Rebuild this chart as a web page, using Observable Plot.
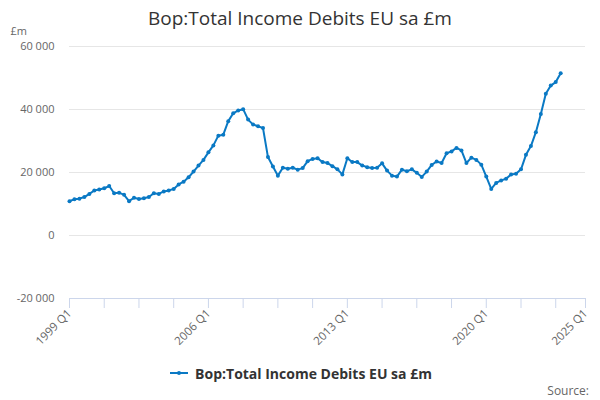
<!DOCTYPE html>
<html>
<head>
<meta charset="utf-8">
<script src="https://cdn.jsdelivr.net/npm/d3@7"></script>
<script src="https://cdn.jsdelivr.net/npm/@observablehq/plot@0.6"></script>
<style>
  body { margin: 0; background: #fff; font-family: "Open Sans", sans-serif; }
  #wrap { width: 600px; }
  #title { height: 22px; box-sizing: border-box; padding-top: 6px; text-align: center; font-size: 19px; line-height: 24px; color: #333; position: relative; z-index: 1; }
  #legend { height: 20px; display: flex; justify-content: center; align-items: center; font-size: 14px; font-weight: bold; color: #333; }
  #source { height: 16px; text-align: right; padding-right: 11px; font-size: 12px; line-height: 16px; color: #666; }
  #chart svg { background: transparent; }
</style>
</head>
<body>
<div id="wrap">
  <div id="title">Bop:Total Income Debits EU sa £m</div>
  <div id="chart"></div>
  <div id="legend"><svg width="22" height="10" style="margin-right:5px"><line x1="2" x2="20" y1="5" y2="5" stroke="#0a79c4" stroke-width="2"/><circle cx="11" cy="5" r="2" fill="#0a79c4"/></svg><span id="legtext"></span></div>
  <div id="source">Source:</div>
</div>
<script>
const seriesName = "Bop:Total Income Debits EU sa £m";
const unitLabel = "£m";
const firstYear = 1999;
const lastYear = 2025;
// Quarterly values (£m), 1999 Q1 .. 2023 Q4
const values = [
  10900, 11500, 11700, 12200,
  13200, 14300, 14600, 15000,
  15700, 13400, 13600, 12900,
  10900, 12000, 11600, 11800,
  12200, 13400, 13200, 14000,
  14300, 14800, 16200, 17100,
  18500, 20300, 22200, 24000,
  26400, 28600, 31700, 32000,
  36300, 38800, 39700, 40100,
  36800, 35200, 34700, 34100,
  24900, 21900, 19000, 21500,
  21200, 21500, 20900, 21400,
  23600, 24300, 24500, 23300,
  23000, 22000, 21000, 19400,
  24500, 23300, 23300, 22200,
  21700, 21400, 21500, 22900,
  20600, 19000, 18700, 20900,
  20400, 21000, 19900, 18600,
  20300, 22400, 23500, 23000,
  26100, 26700, 27800, 27000,
  23000, 24700, 24000, 22500,
  18700, 14800, 16700, 17500,
  18000, 19400, 19600, 21000,
  25600, 28400, 32800, 38600,
  45000, 47600, 48700, 51500
];
const yTicks = [-20000, 0, 20000, 40000, 60000];
const labelledTicks = ["1999 Q1", "2006 Q1", "2013 Q1", "2020 Q1", "2025 Q1"];

// category domain: every quarter 1999 Q1 .. 2025 Q1
const quarters = [];
for (let y = firstYear; y <= lastYear; y++) {
  for (let q = 1; q <= 4; q++) {
    quarters.push(`${y} Q${q}`);
    if (y === lastYear) break;
  }
}
const data = values.map((v, i) => ({quarter: quarters[i], value: v}));
// minor ticks every 7 quarters plus the final category
const minorTicks = quarters.filter((d, i) => i % 7 === 0);
if (!minorTicks.includes(quarters[quarters.length - 1])) minorTicks.push(quarters[quarters.length - 1]);

document.getElementById("legtext").textContent = seriesName;

const fmt = d => (d < 0 ? "-" : "") + d3.format(",")(Math.abs(d)).replace(/,/g, " ");
const color = "#0a79c4";

const chart = Plot.plot({
  width: 600,
  height: 341,
  marginLeft: 69,
  marginRight: 15,
  marginTop: 24,
  marginBottom: 65,
  style: {fontFamily: "'Open Sans', sans-serif", fontSize: "11px", color: "#666", background: "transparent"},
  x: {type: "point", domain: quarters, padding: 0},
  y: {domain: [-20000, 60000]},
  marks: [
    Plot.gridY(yTicks, {stroke: "#e6e6e6", strokeOpacity: 1, strokeWidth: 1}),
    Plot.axisY(yTicks, {tickSize: 0, tickPadding: 15, tickFormat: fmt, label: null, fill: "#666", fontSize: 11}),
    Plot.ruleY([-20000], {stroke: "#ccd6eb", strokeWidth: 1.2}),
    Plot.axisX(minorTicks, {tickSize: 10, tickFormat: () => "", stroke: "#ccd6eb", label: null}),
    Plot.axisX(labelledTicks, {tickSize: 0, tickPadding: 13, tickRotate: -45, label: null, fill: "#666", fontSize: 11.5}),
    Plot.text([unitLabel], {frameAnchor: "top-left", lineAnchor: "middle", dx: -59, dy: -15, text: d => d, fill: "#666", fontSize: 11, textAnchor: "start"}),
    Plot.line(data, {x: "quarter", y: "value", stroke: color, strokeWidth: 2}),
    Plot.dot(data, {x: "quarter", y: "value", fill: color, r: 2})
  ]
});
document.getElementById("chart").appendChild(chart);
</script>
</body>
</html>
